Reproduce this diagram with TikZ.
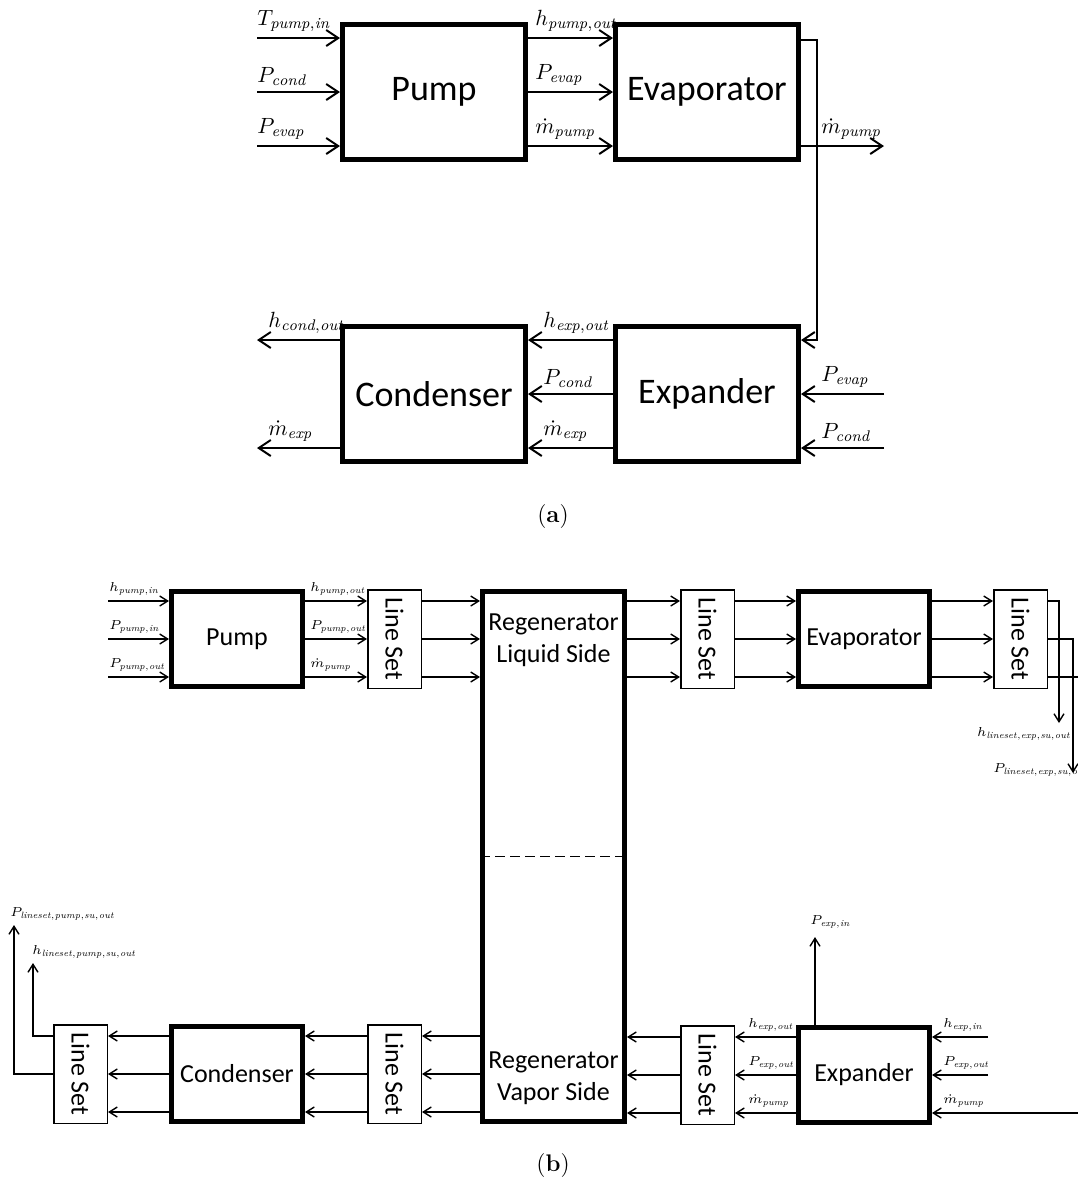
\RequirePackage{fix-cm}
\documentclass[tikz,border=0pt]{standalone}
\usepackage{fontspec}
\setsansfont{Carlito}
\usetikzlibrary{positioning,arrows.meta}
\begin{document}
\begin{tikzpicture}[x=0.5pt,y=-0.5pt,
 blk/.style={draw,line width=2.5pt,inner sep=0pt,minimum width=91.5pt,minimum height=67.5pt,font=\sffamily\fontsize{18}{22}\selectfont},
 sblk/.style={draw,line width=2.5pt,inner sep=0pt,minimum width=65.5pt,minimum height=47.5pt,font=\sffamily\fontsize{13}{16}\selectfont},
 rblk/.style={draw,line width=2.5pt,inner sep=0pt,minimum width=71pt,minimum height=265pt},
 lset/.style={draw,line width=0.75pt,inner sep=0pt,minimum width=26.75pt,minimum height=49.25pt,font=\sffamily\fontsize{13}{16}\selectfont},
 rtxt/.style={align=center,font=\sffamily\fontsize{13}{16}\selectfont},
 arr/.style={-{Straight Barb[length=6pt,width=8pt]},line width=1pt},
 sarr/.style={-{Straight Barb[length=4pt,width=5pt]},line width=0.7pt},
 lab/.style={anchor=south west,inner sep=0pt,font=\fontsize{11}{13}\selectfont},
 slab/.style={anchor=south west,inner sep=0pt,font=\fontsize{6.5}{8}\selectfont},
 captxt/.style={font=\fontsize{12}{14}\selectfont}]
 \useasboundingbox (0,0) rectangle (1078,1180);
 % (a)
 \node[blk] (pumpa) at (434,92) {Pump};
 \node[blk,right=42.5pt of pumpa] (evapa) {Evaporator};
 \node[blk,below=81pt of pumpa] (conda) {Condenser};
 \node[blk,right=42.5pt of conda] (expa) {Expander};
 \foreach \dy/\v [count=\i] in {27/{T_{\mathit{pump,in}}},0/{P_{\mathit{cond}}},-27/{P_{\mathit{evap}}}}{
  \coordinate (ina\i) at ([xshift=-41.5pt,yshift=\dy pt]pumpa.west);
  \draw[arr] (ina\i) -- ([yshift=\dy pt]pumpa.west);
  \node[lab] (lina\i) at ([yshift=3pt]ina\i) {$\v$};
 }
 \foreach \dy/\v [count=\i] in {27/{h_{\mathit{pump,out}}},0/{P_{\mathit{evap}}},-27/{\dot{m}_{\mathit{pump}}}}{
  \draw[arr] ([yshift=\dy pt]pumpa.east) -- ([yshift=\dy pt]evapa.west);
  \node[lab] (lpe\i) at ([xshift=3.5pt,yshift={\dy pt+3pt}]pumpa.east) {$\v$};
 }
 \draw[arr] ([yshift=26pt]evapa.east) -- ++(8pt,0) |- ([yshift=27pt]expa.east);
 \coordinate (mouta) at ([xshift=41.5pt,yshift=-27pt]evapa.east);
 \draw[arr] ([yshift=-27pt]evapa.east) -- (mouta);
 \node[lab] (lmouta) at ([xshift=10pt,yshift={-27pt+3pt}]evapa.east) {$\dot{m}_{\mathit{pump}}$};
 \foreach \dy/\v [count=\i] in {27/{h_{\mathit{exp,out}}},0/{P_{\mathit{cond}}},-27/{\dot{m}_{\mathit{exp}}}}{
  \draw[arr] ([yshift=\dy pt]expa.west) -- ([yshift=\dy pt]conda.east);
  \node[lab] (lec\i) at ([xshift=7.5pt,yshift={\dy pt+3pt}]conda.east) {$\v$};
 }
 \foreach \dy/\v [count=\i] in {27/{h_{\mathit{cond,out}}},-27/{\dot{m}_{\mathit{exp}}}}{
  \coordinate (outa\i) at ([xshift=-41.5pt,yshift=\dy pt]conda.west);
  \draw[arr] ([yshift=\dy pt]conda.west) -- (outa\i);
  \node[lab] (louta\i) at ([xshift=5.5pt,yshift=3pt]outa\i) {$\v$};
 }
 \foreach \dy/\v [count=\i] in {0/{P_{\mathit{evap}}},-27/{P_{\mathit{cond}}}}{
  \coordinate (ine\i) at ([xshift=41.5pt,yshift=\dy pt]expa.east);
  \draw[arr] (ine\i) -- ([yshift=\dy pt]expa.east);
  \node[lab] (line\i) at ([xshift=10pt,yshift={\dy pt+3pt}]expa.east) {$\v$};
 }
 \node[captxt] (capa) at (553,517) {(\textbf{a})};
 % (b)
 \node[sblk] (pumpb) at (237,639) {Pump};
 \node[lset,right=31pt of pumpb] (ls1) {\rotatebox{-90}{Line Set}};
 \node[rblk,right=29pt of ls1.north east,anchor=north west] (regen) {};
 \node[lset,right=26.5pt of regen.north east,anchor=north west] (ls2) {\rotatebox{-90}{Line Set}};
 \node[sblk,right=30.5pt of ls2] (evapb) {Evaporator};
 \node[lset,right=30.5pt of evapb] (ls3) {\rotatebox{-90}{Line Set}};
 \node[sblk,below=168pt of evapb] (expb) {Expander};
 \node[lset,left=30.5pt of expb] (ls4) {\rotatebox{-90}{Line Set}};
 \node[lset,left=29pt of regen.south west,anchor=south east] (ls5) {\rotatebox{-90}{Line Set}};
 \node[sblk,left=31pt of ls5] (condb) {Condenser};
 \node[lset,left=30.5pt of condb] (ls6) {\rotatebox{-90}{Line Set}};
 \node[rtxt,anchor=north] (regliq) at ([yshift=-9pt]regen.north) {Regenerator\\Liquid Side};
 \node[rtxt,anchor=south] (regvap) at ([yshift=6pt]regen.south) {Regenerator\\Vapor Side};
 \draw[dash pattern=on 5pt off 2.5pt,line width=0.8pt] (regen.west) -- (regen.east);
 \foreach \dy/\v [count=\i] in {19/{h_{\mathit{pump,in}}},0/{P_{\mathit{pump,in}}},-19/{P_{\mathit{pump,out}}}}{
  \coordinate (inb\i) at ([xshift=-30.5pt,yshift=\dy pt]pumpb.west);
  \draw[sarr] (inb\i) -- ([yshift=\dy pt]pumpb.west);
  \node[slab] (linb\i) at ([xshift=0.5pt,yshift=2.5pt]inb\i) {$\v$};
 }
 \foreach \dy/\v [count=\i] in {19/{h_{\mathit{pump,out}}},0/{P_{\mathit{pump,out}}},-19/{\dot{m}_{\mathit{pump}}}}{
  \draw[sarr] ([yshift=\dy pt]pumpb.east) -- ([yshift=\dy pt]ls1.west);
  \node[slab] (lpl\i) at ([xshift=2.5pt,yshift={\dy pt+2.5pt}]pumpb.east) {$\v$};
 }
 \foreach \dy in {19,0,-19}{
  \draw[sarr] ([yshift=\dy pt]ls1.east) -- ([yshift=\dy pt]ls1.east -| regen.west);
  \draw[sarr] ([yshift=\dy pt]ls2.west -| regen.east) -- ([yshift=\dy pt]ls2.west);
  \draw[sarr] ([yshift=\dy pt]ls2.east) -- ([yshift=\dy pt]evapb.west);
  \draw[sarr] ([yshift=\dy pt]evapb.east) -- ([yshift=\dy pt]ls3.west);
 }
 \coordinate (hlsx) at (1059,723);
 \coordinate (plsx) at (1073,773);
 \coordinate (medge) at ([xshift=25pt,yshift=-19pt]ls3.east);
 \draw[sarr] ([yshift=19pt]ls3.east) -| (hlsx);
 \draw[sarr] (ls3.east) -| (plsx);
 \draw[line width=0.7pt] ([yshift=-19pt]ls3.east) -- (medge);
 \node[slab,anchor=north] (lhlsx) at ([xshift=-17.5pt,yshift=-2pt]hlsx) {$h_{\mathit{lineset,exp,su,out}}$};
 \node[slab,anchor=north west] (lplsx) at ([xshift=-40pt,yshift=5pt]plsx) {$P_{\mathit{lineset,exp,su,out}}$};
 \coordinate (medgeb) at ([xshift=75pt,yshift=-19pt]expb.east);
 \foreach \dy [count=\i] in {19,0}{
  \coordinate (inx\i) at ([xshift=28pt,yshift=\dy pt]expb.east);
  \draw[sarr] (inx\i) -- ([yshift=\dy pt]expb.east);
 }
 \draw[sarr] (medgeb) -- ([yshift=-19pt]expb.east);
 \foreach \dy/\v [count=\i] in {19/{h_{\mathit{exp,in}}},0/{P_{\mathit{exp,out}}},-19/{\dot{m}_{\mathit{pump}}}}
  \node[slab] (linx\i) at ([xshift=5.5pt,yshift={\dy pt+2.5pt}]expb.east) {$\v$};
 \foreach \dy/\v [count=\i] in {19/{h_{\mathit{exp,out}}},0/{P_{\mathit{exp,out}}},-19/{\dot{m}_{\mathit{pump}}}}{
  \draw[sarr] ([yshift=\dy pt]expb.west) -- ([yshift=\dy pt]ls4.east);
  \node[slab] (lxl\i) at ([xshift=6.5pt,yshift={\dy pt+2.5pt}]ls4.east) {$\v$};
 }
 \foreach \dy in {19,0,-19}{
  \draw[sarr] ([yshift=\dy pt]ls4.west) -- ([yshift=\dy pt]ls4.west -| regen.east);
  \draw[sarr] ([yshift=\dy pt]ls5.east -| regen.west) -- ([yshift=\dy pt]ls5.east);
  \draw[sarr] ([yshift=\dy pt]ls5.west) -- ([yshift=\dy pt]condb.east);
  \draw[sarr] ([yshift=\dy pt]condb.west) -- ([yshift=\dy pt]ls6.east);
 }
 \coordinate (hlsp) at (33,963);
 \coordinate (plsp) at (14,925);
 \draw[sarr] ([yshift=19pt]ls6.west) -| (hlsp);
 \draw[sarr] (ls6.west) -| (plsp);
 \node[slab] (lhlsp) at ([xshift=-0.5pt,yshift=2pt]hlsp) {$h_{\mathit{lineset,pump,su,out}}$};
 \node[slab] (lplsp) at ([xshift=-2pt,yshift=2pt]plsp) {$P_{\mathit{lineset,pump,su,out}}$};
 \coordinate (pexin) at ([xshift=9.5pt,yshift=44pt]expb.north west);
 \draw[sarr] ([xshift=9.5pt]expb.north west) -- (pexin);
 \node[slab] (lpexin) at ([xshift=-2.5pt,yshift=4pt]pexin) {$P_{\mathit{exp,in}}$};
 \node[captxt] (capb) at (553,1165) {(\textbf{b})};
\end{tikzpicture}
\end{document}
